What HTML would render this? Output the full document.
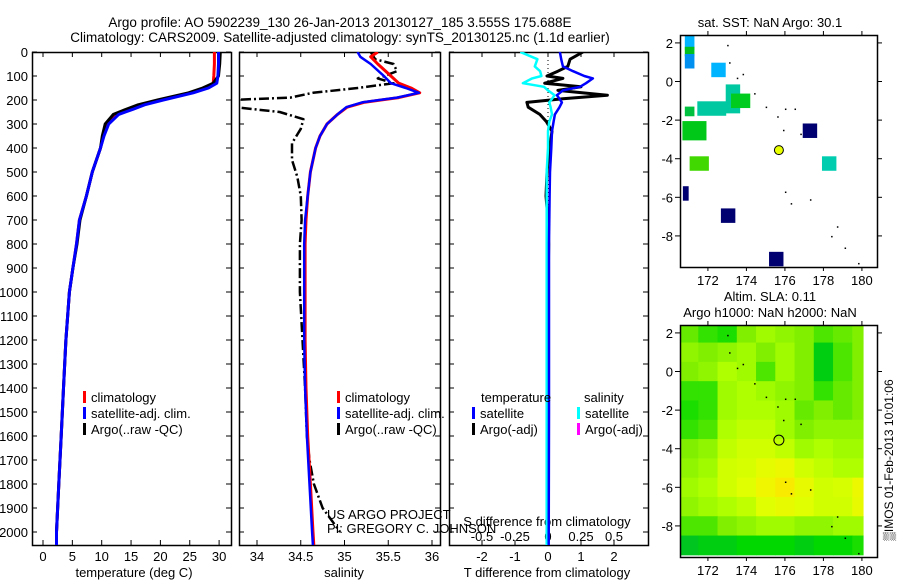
<!DOCTYPE html>
<html><head><meta charset="utf-8">
<style>
html,body{margin:0;padding:0;background:#fff;}
svg{display:block;font-family:"Liberation Sans",sans-serif;}
text{fill:#000;}
</style></head>
<body>
<svg id="fig" width="900" height="580" viewBox="0 0 900 580" xmlns="http://www.w3.org/2000/svg">
<defs>
<clipPath id="c1"><rect x="32" y="52" width="199" height="493"/></clipPath>
<clipPath id="c2"><rect x="239" y="52" width="201" height="493"/></clipPath>
<clipPath id="c3"><rect x="449" y="52" width="199" height="493"/></clipPath>
<clipPath id="cm1"><rect x="680" y="35" width="197" height="232"/></clipPath>
<clipPath id="cm2"><rect x="680" y="325" width="197" height="232"/></clipPath>
</defs>
<text x="340" y="27" font-size="13.5" text-anchor="middle">Argo profile: AO 5902239_130 26-Jan-2013 20130127_185 3.555S 175.688E</text>
<text x="340" y="42" font-size="13.5" text-anchor="middle">Climatology: CARS2009. Satellite-adjusted climatology: synTS_20130125.nc (1.1d earlier)</text>
<g id="g"></g>
</svg>
<script>
// ---- profile data ----
const T_DEPTH = [0,50,100,130,150,170,200,220,240,260,300,350,400,500,600,700,800,900,1000,1200,1400,1600,1800,2000,2060];
const climT = [29.2,29.2,29.1,29.0,27.6,25.0,20.0,17.0,14.8,12.6,11.0,10.3,9.8,8.4,7.4,6.2,5.7,5.1,4.5,3.9,3.5,3.1,2.7,2.3,2.3];
const satT  = [29.9,29.9,29.8,29.6,28.2,25.6,20.5,17.3,15.2,12.9,11.2,10.4,9.8,8.4,7.4,6.2,5.7,5.1,4.5,3.9,3.5,3.1,2.7,2.3,2.3];
const argoT = [30.2,30.1,29.9,29.0,27.2,24.8,19.5,16.2,14.0,12.0,10.6,10.1,9.8,8.4,7.4,6.3,5.8,5.1,4.5,3.9,3.5,3.1,2.7,2.3,2.3];
const S_DEPTH = [0,20,50,100,130,150,170,190,210,230,260,300,350,400,500,600,700,800,1000,1200,1400,1600,1800,2000,2060];
const climS = [35.38,35.30,35.38,35.53,35.62,35.76,35.86,35.62,35.22,35.03,34.92,34.80,34.72,34.67,34.61,34.58,34.56,34.55,34.55,34.55,34.56,34.58,34.61,34.64,34.65];
const satS  = [35.15,35.18,35.30,35.45,35.53,35.70,35.85,35.60,35.20,35.02,34.92,34.80,34.72,34.67,34.61,34.58,34.55,34.54,34.54,34.54,34.55,34.57,34.60,34.63,34.64];
const A_DEPTH = [0,30,50,80,110,130,150,170,190,200,215,230,250,280,320,380,450,520,600,700,800,1000,1200,1400,1600,1700,1800,1900,1950,2000];
const argoS = [35.3,35.35,35.56,35.6,35.38,35.56,35.15,34.64,34.38,33.7,33.7,33.75,34.26,34.53,34.5,34.4,34.4,34.46,34.5,34.51,34.49,34.49,34.52,34.55,34.57,34.6,34.65,34.75,34.85,34.95];
const D_DEPTH = [0,30,60,80,100,110,130,145,160,180,195,210,230,260,290,330,400,500,600,700,800,1000,1500,2060];
const satTdiff  = [0.36,0.4,0.45,0.76,1.1,1.36,1.15,0.97,0.45,0.27,0.35,0.42,0.35,0.21,0.17,0.12,0.1,0.06,0.05,0.04,0.03,0.03,0.03,0.02];
const argoTdiff = [1.06,0.67,0.6,0.3,-0.03,0.45,-0.1,1.0,0.3,1.8,0.45,-0.64,-0.6,-0.25,-0.05,0.12,0.05,-0.03,-0.06,0,0.02,0,0.01,0];
const satSdiff  = [-0.21,-0.08,-0.1,-0.06,-0.05,-0.12,-0.19,-0.03,0,0.05,0.03,0.01,0.02,0.03,0.01,0,0,-0.01,-0.01,-0.01,-0.01,-0.01,-0.01,-0.01];
// ticks
const depthTicks = [0,100,200,300,400,500,600,700,800,900,1000,1100,1200,1300,1400,1500,1600,1700,1800,1900,2000];
const tempTicks = [0,5,10,15,20,25,30];
const salTicks = [34,34.5,35,35.5,36];
const diffTicks = [-2,-1,0,1,2];
const sdiffTickLabels = ["-0.5","-0.25","0","0.25","0.5"];
// SST map cells: lon, lat (centre), colour
const sstLon = [171.05,171.05,171.05,172.55,173.3,172.2,173.7,171.05,171.3,177.3,171.55,178.3,170.85,173.05,175.55];
const sstLat = [2.0,1.55,1.05,0.6,-0.9,-1.4,-1.0,-1.55,-2.55,-2.55,-4.25,-4.25,-5.8,-6.95,-9.2];
const sstCol = ["#00b4ff","#00c020","#0090f0","#00b4ff","#00c8a0","#00c8a0","#00cc20","#00c040","#00c818","#000070","#40d800","#00ccb0","#000070","#000070","#000070"];
const sstW = [0.5,0.5,0.5,0.75,0.75,1.5,1.0,0.5,1.25,0.75,1.0,0.75,0.3,0.75,0.75];
const sstH = [0.75,0.5,0.75,0.75,1.5,0.75,0.75,0.5,1.0,0.75,0.75,0.75,0.75,0.75,0.75];
// SLA grid (1 deg cells)
const slaLon = [171,172,173,174,175,176,177,178,179,180];
const slaLat = [2,1,0,-1,-2,-3,-4,-5,-6,-7,-8,-9];
const slaVal = [
[0.4,0.3,0.25,0.45,0.55,0.5,0.45,0.35,0.4,0.45],
[0.5,0.45,0.5,0.55,0.45,0.55,0.45,0.15,0.35,0.45],
[0.45,0.5,0.6,0.55,0.35,0.55,0.45,0.15,0.35,0.45],
[0.3,0.3,0.55,0.6,0.55,0.5,0.45,0.3,0.4,0.45],
[0.25,0.3,0.55,0.6,0.6,0.55,0.4,0.45,0.4,0.45],
[0.3,0.35,0.6,0.65,0.65,0.55,0.45,0.5,0.5,0.5],
[0.45,0.5,0.65,0.7,0.7,0.65,0.55,0.6,0.55,0.55],
[0.5,0.55,0.7,0.72,0.78,0.82,0.7,0.65,0.6,0.6],
[0.55,0.6,0.7,0.75,0.85,0.92,0.8,0.7,0.72,0.82],
[0.5,0.55,0.6,0.65,0.75,0.8,0.75,0.7,0.7,0.8],
[0.35,0.35,0.45,0.5,0.55,0.55,0.5,0.5,0.55,0.55],
[0.1,0.15,0.15,0.2,0.2,0.2,0.15,0.2,0.2,0.25]];
const argoLon = [175.688];
const argoLat = [-3.555];
const islandLon = [173.0,173.1,173.5,173.8,174.4,175.0,175.6,176.0,176.5,175.9,176.8,176.0,176.3,177.3,178.4,178.7,179.1,179.8];
const islandLat = [1.9,1.0,0.2,0.4,-0.6,-1.3,-1.8,-1.4,-1.4,-2.5,-2.7,-5.7,-6.3,-6.1,-8.0,-7.5,-8.6,-9.4];

const NS="http://www.w3.org/2000/svg";
const G=document.getElementById('g');
function mk(tag,attrs,parent){const e=document.createElementNS(NS,tag);for(const k in attrs)e.setAttribute(k,attrs[k]);(parent||G).appendChild(e);return e;}

const yD = d => 52 + d*0.24;
const xT = t => 43 + t*5.87;
const xS = s => 257 + (s-34)*87.5;
const xDf = v => 548 + v*33;
const xSd = s => 548 + s*132;

function frame(x,y,w,h,name){
  const r=mk('rect',{x:x+0.5,y:y+0.5,width:w,height:h,fill:'none',stroke:'#000','stroke-width':1.5});
  
  
}
function line(xs,ys,color,w,clip,name,dash){
  let d='';
  for(let i=0;i<xs.length;i++) d+=(i?'L':'M')+xs[i].toFixed(1)+' '+ys[i].toFixed(1);
  const p=mk('path',{d:d,fill:'none',stroke:color,'stroke-width':w,'clip-path':'url(#'+clip+')','stroke-linejoin':'round'});
  if(dash) p.setAttribute('stroke-dasharray',dash);
  
  
}
function txt(x,y,s,size,anchor,name,extra){
  const t=mk('text',Object.assign({x:x,y:y,'font-size':size,'text-anchor':anchor||'start'},extra||{}));
  t.textContent=s;
  
  
  return t;
}
function tick(x1,y1,x2,y2){
  const l=mk('line',{x1:x1,y1:y1,x2:x2,y2:y2,stroke:'#000','stroke-width':1});
  
  
}

// ---- profile panels ----
const panels=[[32,199,'c1'],[239,201,'c2'],[449,199,'c3']];
panels.forEach((p,i)=>{
  frame(p[0],52,p[1],493,['temperature-panel','salinity-panel','difference-panel'][i]);
  depthTicks.forEach(d=>{tick(p[0],yD(d),p[0]+5,yD(d));tick(p[0]+p[1]-5,yD(d),p[0]+p[1],yD(d));});
});
depthTicks.forEach(d=>{txt(28,yD(d)+5,String(d),13,'end','depth-tick-label');});
tempTicks.forEach(t=>{tick(xT(t),545,xT(t),540);tick(xT(t),52,xT(t),57);txt(xT(t),561,String(t),13,'middle','temp-tick-label');});
salTicks.forEach(s=>{tick(xS(s),545,xS(s),540);tick(xS(s),52,xS(s),57);txt(xS(s),561,String(s),13,'middle','salinity-tick-label');});
diffTicks.forEach((v,i)=>{tick(xDf(v),545,xDf(v),540);tick(xDf(v),52,xDf(v),57);txt(xDf(v),561,String(v),13,'middle','tdiff-tick-label');txt(xDf(v),541,sdiffTickLabels[i],13,'middle','sdiff-tick-label');});
txt(134,577,'temperature (deg C)',13,'middle','x-axis-title-temperature');
txt(344,577,'salinity',13,'middle','x-axis-title-salinity');
txt(547,577,'T difference from climatology',13,'middle','x-axis-title-tdiff');
txt(547,526,'S difference from climatology',13,'middle','sdiff-axis-title');

// temperature series
line(climT.map(xT),T_DEPTH.map(yD),'#ff0000',3,'c1','temp-climatology-line');
line(argoT.map(xT),T_DEPTH.map(yD),'#000',3,'c1','temp-argo-line');
line(satT.map(xT),T_DEPTH.map(yD),'#0000ff',3,'c1','temp-satellite-line');
// salinity series
line(argoS.map(xS),A_DEPTH.map(yD),'#000',2.5,'c2','salinity-argo-line','10 3 2 3');
line(climS.map(xS),S_DEPTH.map(yD),'#ff0000',3,'c2','salinity-climatology-line');
line(satS.map(xS),S_DEPTH.map(yD),'#0000ff',2.5,'c2','salinity-satellite-line');
// diff series
line([xDf(0),xDf(0)],[52,545],'#000',1,'c3','zero-line','1 3');
line(argoTdiff.map(xDf),D_DEPTH.map(yD),'#000',3,'c3','tdiff-argo-line');
line(satSdiff.map(xSd),D_DEPTH.map(yD),'#00ffff',2.5,'c3','sdiff-satellite-line');
line(satTdiff.map(xDf),D_DEPTH.map(yD),'#0000ff',2.5,'c3','tdiff-satellite-line');

// legends
function legend(x,y,color,label,name){
  const r=mk('rect',{x:x,y:y-11,width:3,height:12,fill:color});
  
  
  txt(x+8,y,label,13,'start',name);
}
legend(83,402,'#ff0000','climatology','legend-temp-climatology');
legend(83,418,'#0000ff','satellite-adj. clim.','legend-temp-satellite');
legend(83,434,'#000','Argo(..raw -QC)','legend-temp-argo');
legend(337,402,'#ff0000','climatology','legend-sal-climatology');
legend(337,418,'#0000ff','satellite-adj. clim.','legend-sal-satellite');
legend(337,434,'#000','Argo(..raw -QC)','legend-sal-argo');
txt(481,402,'temperature',13,'start','legend-header-temperature');
txt(584,402,'salinity',13,'start','legend-header-salinity');
legend(472,418,'#0000ff','satellite','legend-tdiff-satellite');
legend(472,434,'#000','Argo(-adj)','legend-tdiff-argo');
legend(577,418,'#00ffff','satellite','legend-sdiff-satellite');
legend(577,434,'#ff00ff','Argo(-adj)','legend-sdiff-argo');
txt(327,519,'US ARGO PROJECT',13,'start','project-label');
txt(327,533,'PI: GREGORY C. JOHNSON',13,'start','pi-label');

// ---- maps ----
const mX = lon => 680 + (lon-170.55)*19.25;
const mY = (lat,off) => off + (2.41-lat)*19.3;
const latTicks=[2,0,-2,-4,-6,-8];
const lonTicks=[172,174,176,178,180];

// SST map
sstLon.forEach((lo,i)=>{
  const r=mk('rect',{x:mX(lo-sstW[i]/2),y:mY(sstLat[i]+sstH[i]/2,35),width:sstW[i]*19.25,height:sstH[i]*19.3,fill:sstCol[i],'clip-path':'url(#cm1)'});
  
  
});
// SLA map
const stops=[[0,[0,176,64]],[0.2,[0,216,0]],[0.45,[128,240,0]],[0.6,[176,255,0]],[0.75,[224,255,0]],[0.9,[248,240,0]],[1,[255,216,0]]];
function cmap(v){for(let i=1;i<stops.length;i++){if(v<=stops[i][0]){const a=stops[i-1],b=stops[i],f=(v-a[0])/(b[0]-a[0]);return 'rgb('+a[1].map((c,k)=>Math.round(c+(b[1][k]-c)*f)).join(',')+')';}}return 'rgb(255,216,0)';}
slaLat.forEach((la,r)=>{slaLon.forEach((lo,c)=>{
  const x0=mX(lo-0.5), x1=Math.min(mX(lo+0.5),mX(180.06));
  const e=mk('rect',{x:x0,y:mY(la+0.5,325),width:Math.max(0,x1-x0)+0.5,height:19.8,fill:cmap(slaVal[r][c]),'clip-path':'url(#cm2)'});
  
  
});});
[[35,'cm1','sst'],[325,'cm2','sla']].forEach(m=>{
  islandLon.forEach((lo,i)=>{
    const d=mk('rect',{x:mX(lo),y:mY(islandLat[i],m[0]),width:1.5,height:1.5,fill:'#000','clip-path':'url(#'+m[1]+')'});
    
    
  });
  frame(680,m[0],197,232,m[2]+'-map-frame');
  latTicks.forEach(la=>{tick(877,mY(la,m[0]),882,mY(la,m[0]));tick(680,mY(la,m[0]),675,mY(la,m[0]));txt(673,mY(la,m[0])+5,String(la),13,'end',m[2]+'-lat-label');});
  lonTicks.forEach(lo=>{tick(mX(lo),m[0],mX(lo),m[0]-4);tick(mX(lo),m[0]+232,mX(lo),m[0]+236);txt(mX(lo),m[0]+250,String(lo),13,'middle',m[2]+'-lon-label');});
});
argoLon.forEach((lo,i)=>{
  const c1=mk('circle',{cx:mX(lo),cy:mY(argoLat[i],35),r:4.5,fill:'#e8ff00',stroke:'#000','stroke-width':1});
  
  
  const c2=mk('circle',{cx:mX(lo),cy:mY(argoLat[i],325),r:5,fill:'none',stroke:'#000','stroke-width':1});
  
  
});
txt(770,27,'sat. SST: NaN Argo: 30.1',13,'middle','sst-map-title');
txt(770,301,'Altim. SLA: 0.11',13,'middle','sla-map-title-1');
txt(770,317,'Argo h1000: NaN h2000: NaN',13,'middle','sla-map-title-2');
txt(0,0,'\u2592IMOS 01-Feb-2013 10:01:06',12,'middle','imos-timestamp',{transform:'translate(893,460) rotate(-90)'});
</script>
</body></html>
